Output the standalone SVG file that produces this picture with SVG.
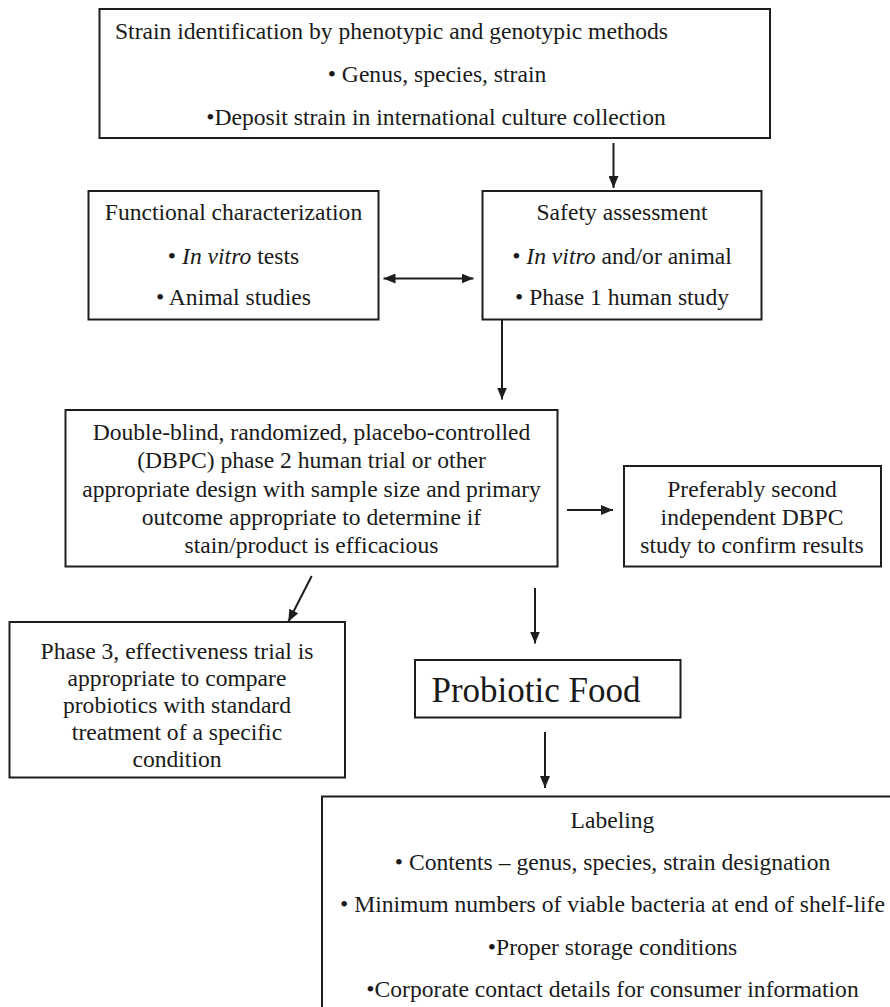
<svg xmlns="http://www.w3.org/2000/svg" width="890" height="1007" viewBox="0 0 890 1007">
<style>
  .box { fill: #ffffff; stroke: #1e1e1e; stroke-width: 2; }
  .t { font-family: 'Liberation Serif', 'Times New Roman', 'DejaVu Serif', serif; font-size: 23.6px; fill: #1a1a1a; }
  .c { text-anchor: middle; }
  .it { font-style: italic; }
  .big { font-size: 35px; }
  .conn { stroke: #1e1e1e; stroke-width: 2; fill: none; marker-end: url(#ah); }
</style>
<defs>
  <marker id="ah" viewBox="0 0 12 10" refX="12" refY="5" markerWidth="12" markerHeight="10" markerUnits="userSpaceOnUse" orient="auto-start-reverse">
    <path d="M0,0 L12,5 L0,10 z" fill="#1e1e1e"/>
  </marker>
</defs>
<rect width="890" height="1007" fill="#ffffff"/>

<g id="strain-id" font-family="Liberation Serif, serif">
  <rect class="box" x="99.5" y="9" width="670.5" height="129"/>
  <text class="t" x="115" y="38.5">Strain identification by phenotypic and genotypic methods</text>
  <text class="t c" x="437" y="82">• Genus, species, strain</text>
  <text class="t c" x="436" y="125">•Deposit strain in international culture collection</text>
</g>

<g id="functional">
  <rect class="box" x="88.5" y="191" width="290" height="128.5"/>
  <text class="t c" x="233.5" y="220">Functional characterization</text>
  <text class="t c" x="233.5" y="263.5">• <tspan class="it">In vitro</tspan> tests</text>
  <text class="t c" x="233.5" y="305">• Animal studies</text>
</g>

<g id="safety">
  <rect class="box" x="482.5" y="191" width="279" height="128.5"/>
  <text class="t c" x="622" y="220">Safety assessment</text>
  <text class="t c" x="622" y="263.5">• <tspan class="it">In vitro</tspan> and/or animal</text>
  <text class="t c" x="622" y="305">• Phase 1 human study</text>
</g>

<g id="dbpc">
  <rect class="box" x="65.5" y="410" width="492" height="156.5"/>
  <text class="t c" x="311.5" y="440">Double-blind, randomized, placebo-controlled</text>
  <text class="t c" x="311.5" y="468">(DBPC) phase 2 human trial or other</text>
  <text class="t c" x="311.5" y="496.5">appropriate design with sample size and primary</text>
  <text class="t c" x="311.5" y="525">outcome appropriate to determine if</text>
  <text class="t c" x="311.5" y="553">stain/product is efficacious</text>
</g>

<g id="second-study">
  <rect class="box" x="624" y="466" width="257" height="100.5"/>
  <text class="t c" x="752" y="496.5">Preferably second</text>
  <text class="t c" x="752" y="525">independent DBPC</text>
  <text class="t c" x="752" y="552.5">study to confirm results</text>
</g>

<g id="phase3">
  <rect class="box" x="9.5" y="622" width="335.5" height="155.5"/>
  <text class="t c" x="177" y="659">Phase 3, effectiveness trial is</text>
  <text class="t c" x="177" y="686">appropriate to compare</text>
  <text class="t c" x="177" y="713">probiotics with standard</text>
  <text class="t c" x="177" y="740">treatment of a specific</text>
  <text class="t c" x="177" y="767">condition</text>
</g>

<g id="probiotic-food">
  <rect class="box" x="415" y="660" width="265.5" height="57.5"/>
  <text class="t big" x="431.5" y="701.5">Probiotic Food</text>
</g>

<g id="labeling">
  <rect class="box" x="322" y="796.5" width="600" height="300"/>
  <text class="t c" x="612.5" y="827.5">Labeling</text>
  <text class="t c" x="612.5" y="870">• Contents – genus, species, strain designation</text>
  <text class="t c" x="612.5" y="911.5">• Minimum numbers of viable bacteria at end of shelf-life</text>
  <text class="t c" x="612.5" y="955">•Proper storage conditions</text>
  <text class="t c" x="612.5" y="996.5">•Corporate contact details for consumer information</text>
</g>

<g id="connectors">
  <line class="conn" x1="613.5" y1="143" x2="613.5" y2="188"/>
  <line class="conn" x1="383.5" y1="278.5" x2="473.5" y2="278.5" marker-start="url(#ah)"/>
  <line class="conn" x1="502" y1="319.5" x2="502" y2="399.5"/>
  <line class="conn" x1="567" y1="510" x2="613" y2="510"/>
  <line class="conn" x1="311.7" y1="576" x2="288.3" y2="621.7"/>
  <line class="conn" x1="535" y1="588" x2="535" y2="643.5"/>
  <line class="conn" x1="545" y1="732" x2="545" y2="788"/>
</g>
</svg>
